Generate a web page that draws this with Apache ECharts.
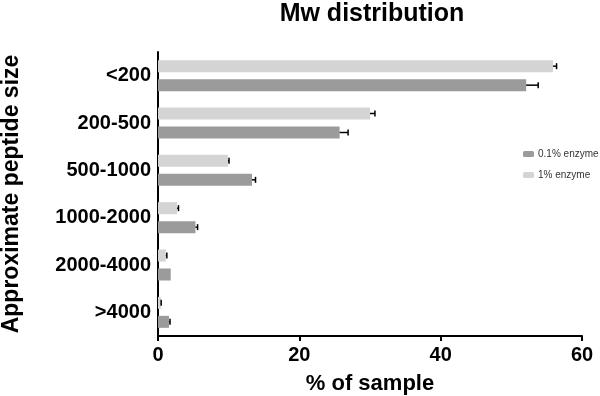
<!DOCTYPE html>
<html>
<head>
<meta charset="utf-8">
<script src="https://cdn.jsdelivr.net/npm/echarts@6/dist/echarts.min.js"></script>
<style>
  html, body { margin: 0; padding: 0; background: #fff; }
  #chart { width: 600px; height: 396px; }
</style>
</head>
<body>
<div id="chart"></div>
<script>
// categories, top to bottom
const sizes = ['<200', '200-500', '500-1000', '1000-2000', '2000-4000', '>4000'];
// % of sample (mean) and error (upper bar only)
const enzyme1 = [55.9, 30.0, 9.9, 2.7, 1.1, 0.4];
const enzyme1Err = [0.5, 0.7, 0.15, 0.2, 0.15, 0.05];
const enzyme01 = [52.1, 25.7, 13.3, 5.3, 1.8, 1.55];
const enzyme01Err = [1.7, 1.2, 0.5, 0.3, 0, 0.15];
const xTicks = [0, 20, 40, 60];

const FONT = '"Liberation Sans", Arial, sans-serif';
const BAR_W = 12;
const GAP = 7;
const offset = (BAR_W + GAP) / 2;

const chart = echarts.init(document.getElementById('chart'));

// error bar: line from bar end to end + err, with a small cap
function errorBar(vals, errs, dy) {
  return function (params, api) {
    const i = api.value(0);
    const v = vals[i];
    const e = errs[i];
    if (!e) return null;
    const p0 = api.coord([v, i]);
    const p1 = api.coord([v + e, i]);
    const y = p0[1] + dy;
    const style = { stroke: '#000', lineWidth: 1.5 };
    return {
      type: 'group',
      children: [
        { type: 'line', shape: { x1: p0[0], y1: y, x2: p1[0], y2: y }, style },
        { type: 'line', shape: { x1: p1[0], y1: y - 3, x2: p1[0], y2: y + 3 }, style }
      ]
    };
  };
}

const option = {
  animation: false,
  title: {
    text: 'Mw distribution',
    left: 367,
    top: -3,
    textAlign: 'center',
    textStyle: { fontFamily: FONT, fontSize: 25, fontWeight: 'bold', color: '#000' }
  },
  legend: {
    orient: 'vertical',
    left: 518,
    top: 144,
    itemWidth: 11,
    itemHeight: 6,
    itemGap: 11,
    data: ['0.1% enzyme', '1% enzyme'],
    textStyle: { fontFamily: FONT, fontSize: 10, color: '#333', padding: [0, 0, 0, -1] }
  },
  grid: { left: 158, right: 18, top: 52, bottom: 60, containLabel: false, outerBoundsMode: 'none' },
  xAxis: {
    type: 'value',
    min: 0,
    max: 60,
    interval: 20,
    name: '% of sample',
    nameLocation: 'middle',
    nameGap: 37,
    nameTextStyle: { fontFamily: FONT, fontSize: 22, fontWeight: 'bold', color: '#000' },
    axisLine: { show: true, lineStyle: { color: '#000', width: 2 } },
    axisTick: { show: true, length: 5, lineStyle: { color: '#000', width: 2 } },
    splitLine: { show: false },
    axisLabel: {
      margin: 9,
      fontFamily: FONT, fontSize: 20, fontWeight: 'bold', color: '#000',
      formatter: v => (xTicks.includes(v) ? String(v) : '')
    }
  },
  yAxis: {
    type: 'category',
    data: sizes,
    inverse: true,
    name: 'Approximate peptide size',
    nameLocation: 'middle',
    nameGap: 135,
    nameTextStyle: { fontFamily: FONT, fontSize: 23, fontWeight: 'bold', color: '#000' },
    axisLine: { lineStyle: { color: '#000', width: 2 } },
    axisTick: { alignWithLabel: true, length: 5, lineStyle: { color: '#000', width: 2 } },
    axisLabel: { margin: 7, fontFamily: FONT, fontSize: 20, fontWeight: 'bold', color: '#000' }
  },
  series: [
    {
      name: '1% enzyme',
      type: 'bar',
      data: enzyme1,
      barWidth: BAR_W,
      barGap: (GAP / BAR_W * 100) + '%',
      itemStyle: { color: '#d4d4d4' }
    },
    {
      name: '0.1% enzyme',
      type: 'bar',
      data: enzyme01,
      barWidth: BAR_W,
      barGap: (GAP / BAR_W * 100) + '%',
      itemStyle: { color: '#9b9b9b' }
    },
    {
      type: 'custom',
      renderItem: errorBar(enzyme1, enzyme1Err, -offset),
      data: sizes.map((s, i) => [i]),
      encode: { y: 0 },
      z: 5,
      silent: true
    },
    {
      type: 'custom',
      renderItem: errorBar(enzyme01, enzyme01Err, offset),
      data: sizes.map((s, i) => [i]),
      encode: { y: 0 },
      z: 5,
      silent: true
    }
  ]
};

chart.setOption(option);
</script>
</body>
</html>
